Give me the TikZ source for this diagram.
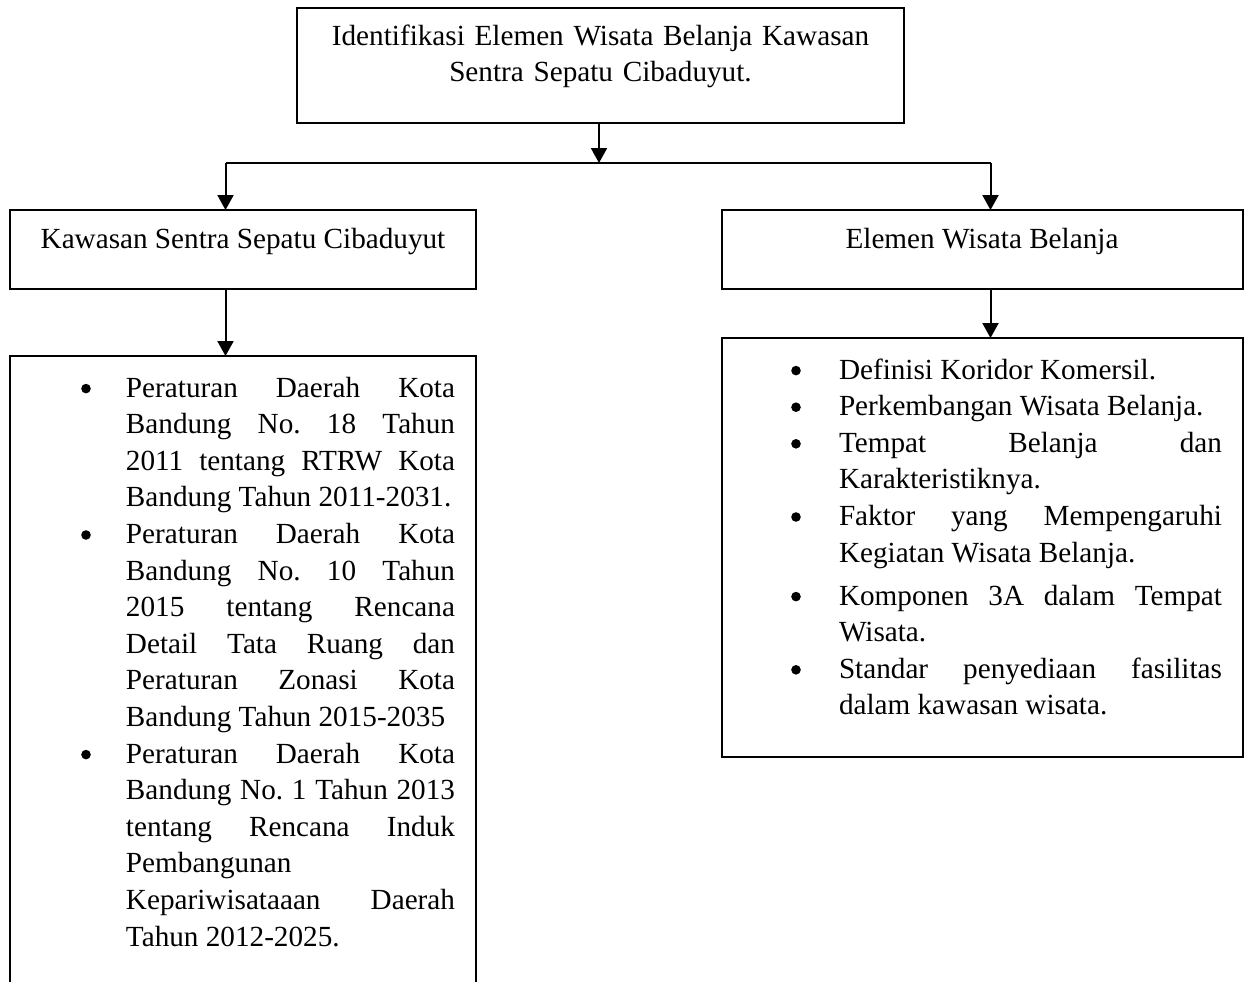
\documentclass[tikz,border=0pt]{standalone}
\usepackage{fontspec}
\setmainfont{Liberation Serif}
\usetikzlibrary{arrows.meta}
\newcommand{\jline}[2]{\makebox[#1][s]{#2}}
\newcommand{\lline}[2]{\makebox[#1][l]{#2}}
\newcommand{\bdot}{\tikz[baseline=0pt]\fill (0pt,4.2pt) circle[radius=2.4pt];}
\newcommand{\bcell}[2]{\makebox[#1][l]{\hspace{#2}\makebox[0pt]{\bdot}}}
\frenchspacing
\tikzset{
  every node/.style={font=\fontsize{14.6}{18.3}\selectfont, inner sep=0pt, outer sep=0pt},
  box/.style={draw, line width=1pt},
  link/.style={line width=1pt},
  arr/.style={line width=1pt, -{Triangle[length=7.5pt,width=8pt]}}
}
\begin{document}
\begin{tikzpicture}[x=0.5pt,y=-0.5pt]
\useasboundingbox (0,0) rectangle (1244,982);

% top box
\node[box, anchor=north west, text width=303.5pt, align=center,
      text height=18.5pt, text depth=39pt] (top) at (297,8)
  {Identifikasi Elemen Wisata Belanja Kawasan\\Sentra Sepatu Cibaduyut.};

% second level boxes
\node[box, anchor=north west, minimum width=233pt,
      text height=19pt, text depth=20.5pt] (kawasan) at (10,210)
  {Kawasan Sentra Sepatu Cibaduyut};
\node[box, anchor=north west, minimum width=260.5pt,
      text height=19pt, text depth=20.5pt] (elemen) at (721.5,210)
  {Elemen Wisata Belanja};

% left list (open at the bottom)
\node[anchor=north west, text height=20.5pt, text depth=292.5pt] (leftlist) at (10,356) {%
\begin{tabular}[t]{@{}l@{}l@{\hspace{10.5pt}}}
\bcell{58pt}{38pt} & \jline{164.5pt}{Peraturan Daerah Kota}\\
 & \jline{164.5pt}{Bandung No. 18 Tahun}\\
 & \jline{164.5pt}{2011 tentang RTRW Kota}\\
 & \lline{164.5pt}{Bandung Tahun 2011-2031.}\\
\bcell{58pt}{38pt} & \jline{164.5pt}{Peraturan Daerah Kota}\\
 & \jline{164.5pt}{Bandung No. 10 Tahun}\\
 & \jline{164.5pt}{2015 tentang Rencana}\\
 & \jline{164.5pt}{Detail Tata Ruang dan}\\
 & \jline{164.5pt}{Peraturan Zonasi Kota}\\
 & \lline{164.5pt}{Bandung Tahun 2015-2035}\\
\bcell{58pt}{38pt} & \jline{164.5pt}{Peraturan Daerah Kota}\\
 & \jline{164.5pt}{Bandung No. 1 Tahun 2013}\\
 & \jline{164.5pt}{tentang Rencana Induk}\\
 & \lline{164.5pt}{Pembangunan}\\
 & \jline{164.5pt}{Kepariwisataaan Daerah}\\
 & \lline{164.5pt}{Tahun 2012-2025.}
\end{tabular}};
\draw[link] (leftlist.south west) -- (leftlist.north west) -- (leftlist.north east) -- (leftlist.south east);

% right list
\node[box, anchor=north west, text height=20.5pt, text depth=189pt] (rightlist) at (721.5,338) {%
\begin{tabular}[t]{@{}l@{}l@{\hspace{10.25pt}}}
\bcell{58.75pt}{37.25pt} & \lline{191.5pt}{Definisi Koridor Komersil.}\\
\bcell{58.75pt}{37.25pt} & \lline{191.5pt}{Perkembangan Wisata Belanja.}\\
\bcell{58.75pt}{37.25pt} & \jline{191.5pt}{Tempat Belanja dan}\\
 & \lline{191.5pt}{Karakteristiknya.}\\
\bcell{58.75pt}{37.25pt} & \jline{191.5pt}{Faktor yang Mempengaruhi}\\
 & \lline{191.5pt}{Kegiatan Wisata Belanja.}\\[3.2pt]
\bcell{58.75pt}{37.25pt} & \jline{191.5pt}{Komponen 3A dalam Tempat}\\
 & \lline{191.5pt}{Wisata.}\\
\bcell{58.75pt}{37.25pt} & \jline{191.5pt}{Standar penyediaan fasilitas}\\
 & \lline{191.5pt}{dalam kawasan wisata.}
\end{tabular}};

% connectors
\coordinate (j)  at (599,163);
\coordinate (jl) at (225.5,163);
\coordinate (jr) at (990.5,163);
\draw[arr] (top.south -| j) -- (j);
\draw[link] (jl) -- (jr);
\draw[arr] (jl) -- (jl |- kawasan.north);
\draw[arr] (jr) -- (jr |- elemen.north);
\draw[arr] (kawasan.south -| jl) -- (jl |- leftlist.north);
\draw[arr] (elemen.south -| jr) -- (jr |- rightlist.north);
\end{tikzpicture}
\end{document}
